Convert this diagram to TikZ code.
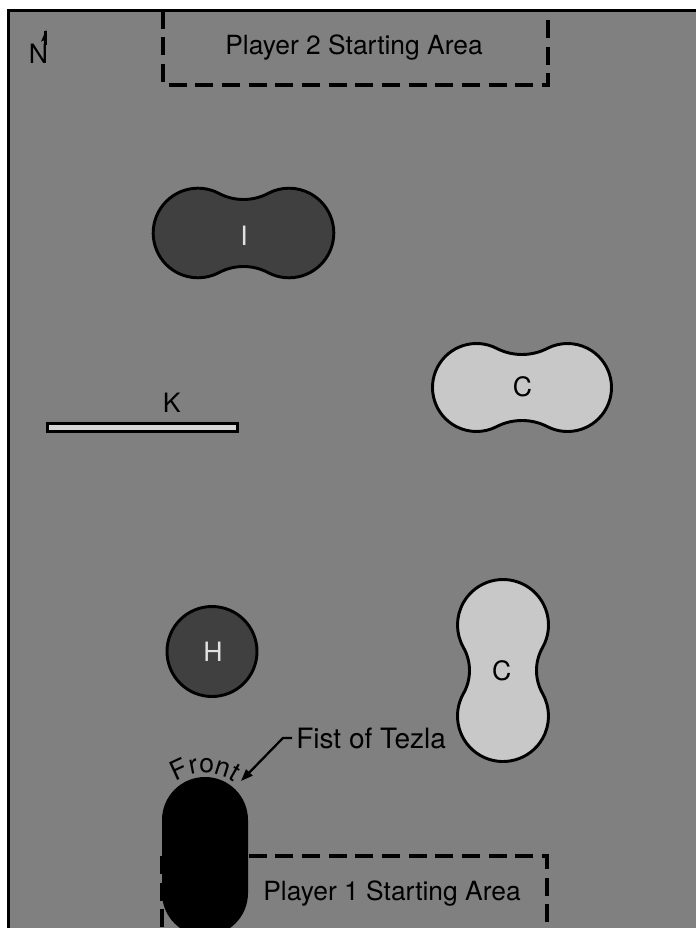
\documentclass[tikz,border=0pt]{standalone}
\usepackage{fontspec}
\setmainfont{TeX Gyre Heros}
\usetikzlibrary{decorations.text,arrows.meta}
\definecolor{field}{RGB}{128,128,128}
\definecolor{darkfill}{RGB}{64,64,64}
\definecolor{lightfill}{RGB}{200,200,200}
\definecolor{barfill}{RGB}{214,214,214}
\definecolor{paletext}{RGB}{225,225,225}
\newcommand\peanut[7]{% style, cx, cy, rotation, R, d, w
  \pgfmathsetmacro\pnr{((#7)^2+(#6)^2-(#5)^2)/(2*((#5)-(#7)))}%
  \pgfmathsetmacro\pnh{#7+\pnr}%
  \pgfmathsetmacro\pnt{atan(\pnh/(#6))}%
  \begin{scope}[shift={(#2,#3)},rotate=#4]
  \path[#1] (#6,0) ++({180-\pnt}:#5)
    arc[start angle={180-\pnt}, end angle={\pnt-180}, radius=#5]
    arc[start angle={\pnt}, end angle={180-\pnt}, radius=\pnr]
    arc[start angle={360-\pnt}, end angle={\pnt}, radius=#5]
    arc[start angle={180+\pnt}, end angle={360-\pnt}, radius=\pnr] -- cycle;
  \end{scope}}
\tikzset{
  outline/.style={draw=black, line width=2.2pt},
  darkpiece/.style={outline, fill=darkfill},
  lightpiece/.style={outline, fill=lightfill},
  zone/.style={draw=black, line width=2.4pt, dash pattern=on 13.5pt off 6.5pt},
  bigtext/.style={font=\fontsize{19.8}{22}\selectfont, inner sep=0pt, anchor=base},
  label/.style={font=\fontsize{20}{22}\selectfont, inner sep=0pt, anchor=base},
  palelabel/.style={label, text=paletext},
  pointer/.style={draw=black, line width=1.7pt, -{Triangle[length=9pt,width=6.5pt]}},
}
\begin{document}
\begin{tikzpicture}[x=0.75pt,y=-0.75pt]
\useasboundingbox (0,0) rectangle (696,928);
\clip (0,0) rectangle (696,928);
\fill[white] (0,0) rectangle (696,928);
\fill[field] (8,10.5) rectangle (700,932);
% starting areas
\path[zone] (163,10.5) rectangle (548,85);
\node[bigtext] (p2) at (354,54) {Player 2 Starting Area};
\path[zone] (162,856) rectangle (547,950);
\node[bigtext] (p1) at (392,900) {Player 1 Starting Area};
% frame
\draw[line width=2.25pt] (8,932) -- (8,10.5) -- (700,10.5);
% north marker
\node[label] (north) at (38.5,63) {N};
\draw[line width=2pt] (45.2,45) -- (45.2,31);
\fill (46.3,29.3) -- (41,41.7) -- (44.6,40) -- cycle;
% pieces
\peanut{darkpiece}{243.5}{233}{0}{44.8}{45.5}{33.5}
\node[palelabel] (I) at (244,245) {I};
\peanut{lightpiece}{522}{387.5}{0}{44}{45.5}{33}
\node[label] (C1) at (522.5,396.5) {C};
\peanut{lightpiece}{503}{670.5}{90}{45.5}{45.5}{33.5}
\node[label] (C2) at (501.7,680) {C};
\draw[darkpiece] (212,651.5) circle[radius=45];
\node[palelabel] (H) at (213,661.5) {H};
\draw[outline, fill=barfill] (47.2,423.5) rectangle (237.6,431.8);
\node[label] (K) at (171.7,412) {K};
% Fist of Tezla
\fill[black] (162,820) arc[start angle=180, end angle=360, radius=43]
  -- (248,893) arc[start angle=0, end angle=180, radius=43] -- cycle;
\path[decorate, decoration={text along path, text align=center,
  text={|\fontsize{20}{20}\selectfont|Front}}]
  (205,826) ++(222:53) arc[start angle=222, end angle=318, radius=53];
\node[font=\fontsize{21}{23}\selectfont, inner sep=0pt, anchor=base west] (fist) at (296,748) {Fist of Tezla};
\coordinate (fisttip) at (241,781);
\draw[pointer] ([xshift=-3]fist.west) -- ++(-9,0) -- (fisttip);
\end{tikzpicture}
\end{document}
